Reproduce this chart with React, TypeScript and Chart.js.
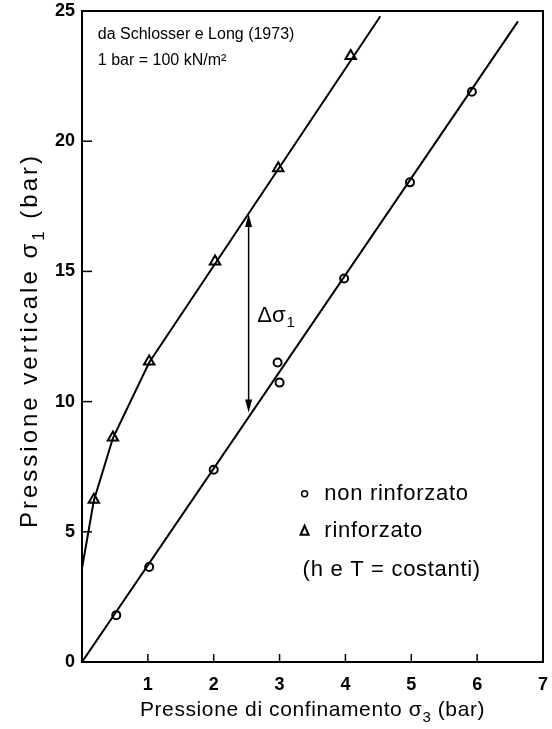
import React, { useEffect, useRef } from "react";
import { Chart, registerables } from "chart.js";

Chart.register(...registerables);

// ---- data ----
const nonRinfX = [0.52, 1.02, 2.0, 2.97, 3.0, 3.98, 4.98, 5.92];
const nonRinfY = [1.8, 3.65, 7.38, 11.5, 10.73, 14.73, 18.42, 21.9];

const rinfX = [0.18, 0.47, 1.02, 2.02, 2.98, 4.08];
const rinfY = [6.23, 8.62, 11.54, 15.38, 18.96, 23.27];

const upperLineX = [0, 0.18, 0.47, 1.02, 4.53];
const upperLineY = [3.6, 6.2, 8.6, 11.5, 24.8];

const lowerLineX = [0, 6.62];
const lowerLineY = [0, 24.6];

const arrowX = 2.53;
const arrowTopY = 17.2;
const arrowBottomY = 9.58;

const xMin = 0;
const xMax = 7;
const yMin = 0;
const yMax = 25;
const xStep = 1;
const yStep = 5;

const sourceLines = ["da Schlosser e Long (1973)", "1 bar = 100 kN/m²"];
const legendLabels = ["non rinforzato", "rinforzato", "(h e T = costanti)"];
const deltaLabel = "Δσ";
const deltaSub = "1";
// title parts: [text before symbol, symbol, subscript, text after]
const xTitleParts = ["Pressione di confinamento ", "σ", "3", " (bar)"];
const yTitleParts = ["Pressione verticale ", "σ", "1", " (bar)"];

const FONT = "'Liberation Sans', Arial, Helvetica, sans-serif";

const toPts = (xs: number[], ys: number[]) => xs.map((x, i) => ({ x, y: ys[i] }));

function drawSubTitle(ctx: any, parts: string[], cx: number, cy: number, size: number, spacing: number, rotate: boolean) {
  ctx.save();
  ctx.translate(cx, cy);
  if (rotate) ctx.rotate(-Math.PI / 2);
  ctx.textBaseline = "middle";
  ctx.textAlign = "left";
  const main = `${size}px ${FONT}`;
  const sub = `${Math.round(size * 0.72)}px ${FONT}`;
  (ctx as any).letterSpacing = `${spacing}px`;
  const fonts = [main, main, sub, main];
  const offs = [0, 0, size * 0.38, 0];
  const widths = parts.map((p, i) => {
    ctx.font = fonts[i];
    return ctx.measureText(p).width;
  });
  const total = widths.reduce((s, w) => s + w, 0);
  let x = -total / 2;
  parts.forEach((p, i) => {
    ctx.font = fonts[i];
    ctx.fillText(p, x, offs[i]);
    x += widths[i];
  });
  ctx.restore();
}

const overlay = {
  id: "overlay",
  afterDatasetsDraw(chart: any) {
    const { ctx, chartArea: a, scales } = chart;
    const xs = scales.x;
    const ys = scales.y;
    const px = (v: number) => xs.getPixelForValue(v);
    const py = (v: number) => ys.getPixelForValue(v);
    ctx.save();
    ctx.strokeStyle = "#000";
    ctx.fillStyle = "#000";
    // frame
    ctx.lineWidth = 2;
    ctx.strokeRect(a.left, a.top, a.right - a.left, a.bottom - a.top);
    // inward ticks
    ctx.lineWidth = 1.5;
    for (let v = xMin + xStep; v < xMax; v += xStep) {
      ctx.beginPath();
      ctx.moveTo(px(v), a.bottom);
      ctx.lineTo(px(v), a.bottom - 8);
      ctx.stroke();
    }
    for (let v = yMin + yStep; v < yMax; v += yStep) {
      ctx.beginPath();
      ctx.moveTo(a.left, py(v));
      ctx.lineTo(a.left + 10, py(v));
      ctx.stroke();
    }
    // double arrow
    const ax = px(arrowX);
    const at = py(arrowTopY);
    const ab = py(arrowBottomY);
    ctx.lineWidth = 1.5;
    ctx.beginPath();
    ctx.moveTo(ax, at + 10);
    ctx.lineTo(ax, ab - 10);
    ctx.stroke();
    ctx.beginPath();
    ctx.moveTo(ax, at);
    ctx.lineTo(ax - 3.5, at + 13);
    ctx.lineTo(ax + 3.5, at + 13);
    ctx.closePath();
    ctx.fill();
    ctx.beginPath();
    ctx.moveTo(ax, ab);
    ctx.lineTo(ax - 3.5, ab - 13);
    ctx.lineTo(ax + 3.5, ab - 13);
    ctx.closePath();
    ctx.fill();
    // delta sigma label
    ctx.textBaseline = "middle";
    ctx.textAlign = "left";
    ctx.font = `22px ${FONT}`;
    const dx = px(2.66);
    const dy = py(13.3);
    ctx.fillText(deltaLabel, dx, dy);
    const dw = ctx.measureText(deltaLabel).width;
    ctx.font = `15px ${FONT}`;
    ctx.fillText(deltaSub, dx + dw + 1, dy + 7);
    // source note
    ctx.font = `16px ${FONT}`;
    ctx.fillText(sourceLines[0], px(0.24), py(24.1));
    ctx.fillText(sourceLines[1], px(0.24), py(23.08));
    // legend
    ctx.save();
    (ctx as any).letterSpacing = "0.7px";
    ctx.font = `22px ${FONT}`;
    ctx.fillText(legendLabels[0], px(3.68), py(6.46));
    ctx.fillText(legendLabels[1], px(3.68), py(5.04));
    ctx.fillText(legendLabels[2], px(3.35), py(3.54));
    ctx.restore();
    ctx.lineWidth = 1.5;
    ctx.beginPath();
    ctx.arc(px(3.38), py(6.46), 3, 0, Math.PI * 2);
    ctx.stroke();
    const tx = px(3.38);
    const ty = py(5.04);
    ctx.lineWidth = 2;
    ctx.beginPath();
    ctx.moveTo(tx, ty - 5);
    ctx.lineTo(tx - 4, ty + 4);
    ctx.lineTo(tx + 4, ty + 4);
    ctx.closePath();
    ctx.stroke();
    // axis titles
    drawSubTitle(ctx, xTitleParts, (a.left + a.right) / 2, 710, 21, 0.6, false);
    drawSubTitle(ctx, yTitleParts, 30, (a.top + a.bottom) / 2 + 4, 24, 3, true);
    ctx.restore();
  },
};

export default function App() {
  const ref = useRef<HTMLCanvasElement | null>(null);
  useEffect(() => {
    if (!ref.current) return;
    const chart = new Chart(ref.current, {
      type: "scatter",
      data: {
        datasets: [
          {
            label: "rinforzato (curva)",
            data: toPts(upperLineX, upperLineY),
            showLine: true,
            borderColor: "#000",
            borderWidth: 2,
            pointRadius: 0,
            tension: 0,
          },
          {
            label: "non rinforzato (retta)",
            data: toPts(lowerLineX, lowerLineY),
            showLine: true,
            borderColor: "#000",
            borderWidth: 2,
            pointRadius: 0,
          },
          {
            label: "non rinforzato",
            data: toPts(nonRinfX, nonRinfY),
            pointStyle: "circle",
            pointRadius: 4,
            backgroundColor: "#fff",
            borderColor: "#000",
            borderWidth: 2,
          },
          {
            label: "rinforzato",
            data: toPts(rinfX, rinfY),
            pointStyle: "triangle",
            pointRadius: 6,
            backgroundColor: "#fff",
            borderColor: "#000",
            borderWidth: 2,
          },
        ],
      },
      options: {
        responsive: false,
        animation: false,
        layout: { padding: { top: 11, right: 9, left: 0, bottom: 0 } },
        plugins: { legend: { display: false }, tooltip: { enabled: false } },
        scales: {
          x: {
            type: "linear",
            min: xMin,
            max: xMax,
            grid: { display: false, drawTicks: false },
            border: { display: false },
            ticks: {
              stepSize: xStep,
              padding: 12,
              color: "#000",
              font: { family: FONT, size: 18, weight: "bold" },
              callback: (v: any) => (v === 0 ? "" : String(v)),
            },
            title: { display: false },
            afterFit: (s: any) => {
              s.height = 67;
              s.paddingLeft = 0;
              s.paddingRight = 0;
            },
          },
          y: {
            type: "linear",
            min: yMin,
            max: yMax,
            grid: { display: false, drawTicks: false },
            border: { display: false },
            ticks: {
              stepSize: yStep,
              padding: 7,
              color: "#000",
              font: { family: FONT, size: 18, weight: "bold" },
            },
            title: { display: false },
            afterFit: (s: any) => {
              s.width = 82;
              s.paddingTop = 0;
              s.paddingBottom = 0;
            },
          },
        },
      },
      plugins: [overlay],
    });
    return () => chart.destroy();
  }, []);
  return (
    <div style={{ position: "absolute", left: 0, top: 0, width: 552, height: 729, background: "#fff" }}>
      <canvas ref={ref} width={552} height={729} style={{ display: "block" }} />
    </div>
  );
}
